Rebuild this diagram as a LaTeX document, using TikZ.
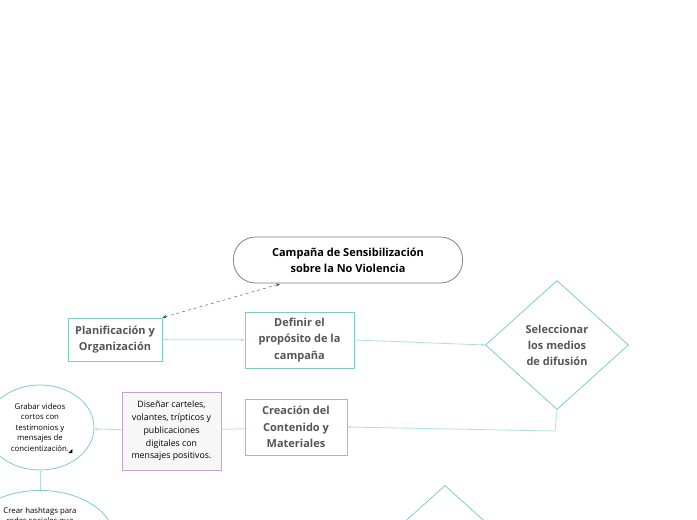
\documentclass[tikz,border=0pt]{standalone}
\usepackage{fontspec}
\setmainfont{Open Sans}
\usepackage{xcolor}
\usetikzlibrary{shapes, arrows.meta, positioning, calc}
\definecolor{mteal}{RGB}{122,206,196}
\definecolor{lteal}{RGB}{170,226,218}
\definecolor{mpurple}{RGB}{196,164,214}
\definecolor{mtext}{RGB}{85,85,85}
\tikzset{
    central/.style={
        rectangle,
        rounded corners=22pt,
        thick,
        draw=gray,
        fill=white,
        minimum width=229pt,
        minimum height=46pt,
        align=center,
        font=\fontsize{11}{16}\selectfont\bfseries,
    },
    topic/.style={
        rectangle,
        thick,
        draw=mteal,
        fill=white,
        align=center,
        text=mtext,
        font=\fontsize{11}{16.5}\selectfont\bfseries,
    },
    choice/.style={
        diamond,
        thick,
        draw=mteal,
        inner sep=0pt,
        minimum width=143pt,
        minimum height=129pt,
        align=center,
        text=mtext,
        font=\fontsize{11}{16}\selectfont\bfseries,
    },
    detail/.style={
        rectangle,
        thick,
        draw=mpurple,
        fill=black!3,
        minimum width=99pt,
        minimum height=78pt,
        align=center,
        font=\fontsize{8.8}{12.8}\selectfont,
    },
    idea/.style={
        ellipse,
        thick,
        draw=mteal,
        fill=white,
        inner sep=0pt,
        align=center,
    },
    small/.style={
        align=center,
        font=\fontsize{7.8}{10.5}\selectfont,
    },
    link/.style={
        draw=lteal,
        thick,
        -{Stealth[length=4pt,width=3pt]},
    },
}

\begin{document}
\begin{tikzpicture}[x=1pt, y=-1pt]
      \useasboundingbox (0,0) rectangle (697,520);

      \node[central] (camp) at (348,260) {Campaña de Sensibilización\\sobre la No Violencia};
      \node[topic, minimum width=94pt, minimum height=43pt] (plan) at (115,339.5) {Planificación y\\Organización};
      \node[topic, minimum width=109pt, minimum height=56pt] (def) at (299.5,340) {Definir el\\propósito de la\\campaña};
      \node[choice] (sel) at (557,345) {Seleccionar\\los medios\\de difusión};
      \node[topic, minimum width=102pt, minimum height=56pt] (crea) at (296,427) {Creación del\\Contenido y\\Materiales};
      \node[detail] (dis) at (171.5,431) {Diseñar carteles,\\volantes, trípticos y\\publicaciones\\digitales con\\mensajes positivos.};
      \node[idea, small, minimum width=108pt, minimum height=85pt] (grab) at (40,427.5) {Grabar videos\\cortos con\\testimonios y\\mensajes de\\concientización.\hspace{7pt}};
      \node[idea, minimum width=150pt, minimum height=100pt, anchor=north] (hash) at (40,490) {};
      \node[small, anchor=north] (hashtext) at ([yshift=-14]hash.north) {Crear hashtags para\\redes sociales que};
      \node[choice, anchor=north] (next) at (445,485) {};

      \coordinate (foot) at (280,284);
      \coordinate (bend) at (555,431);

      \draw[dashed, darkgray, {Stealth[length=4pt,width=3pt]}-{Stealth[length=4pt,width=3pt]}] (plan.north east) -- (foot);
      \draw[link] (plan) -- (def);
      \draw[link] (def.east) -- (sel.west);
      \draw[link] (sel.south) -- (bend) -- (crea.east);
      \draw[link, -] (crea) -- (dis);
      \draw[link] (dis) -- (grab);
      \draw[link, -] (grab) -- (hash);
      \fill[black] (grab.east) ++(-26,25.5) -- ++(4,0) -- ++(0,-4) -- cycle;
    \end{tikzpicture}
\end{document}
